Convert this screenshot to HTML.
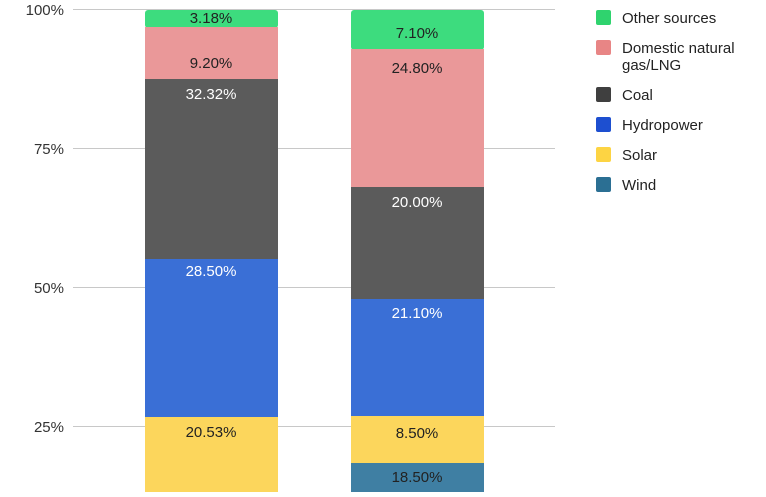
<!DOCTYPE html>
<html><head><style>
body{margin:0;background:#fff;}
svg text{font-family:"Liberation Sans",sans-serif;}
</style></head><body>
<svg width="766" height="492" xmlns="http://www.w3.org/2000/svg">
<g stroke="#c8c8c8" stroke-width="1">
<line x1="73" y1="9.5" x2="555" y2="9.5"/>
<line x1="73" y1="148.5" x2="555" y2="148.5"/>
<line x1="73" y1="287.5" x2="555" y2="287.5"/>
<line x1="73" y1="426.5" x2="555" y2="426.5"/>
</g>
<g font-size="15" fill="#333" text-anchor="end">
<text x="64" y="15">100%</text>
<text x="64" y="154">75%</text>
<text x="64" y="293">50%</text>
<text x="64" y="432">25%</text>
</g>
<!-- bar 1 -->
<rect x="145" y="10" width="133" height="18" rx="3" fill="#3ddc7e"/>
<rect x="145" y="27" width="133" height="52" fill="#ea9899"/>
<rect x="145" y="79" width="133" height="180" fill="#5b5b5b"/>
<rect x="145" y="259" width="133" height="158" fill="#3a6fd6"/>
<rect x="145" y="417" width="133" height="75" fill="#fcd65c"/>
<!-- bar 2 -->
<rect x="351" y="10" width="133" height="40" rx="3" fill="#3ddc7e"/>
<rect x="351" y="49" width="133" height="138" fill="#ea9899"/>
<rect x="351" y="187" width="133" height="112" fill="#5b5b5b"/>
<rect x="351" y="299" width="133" height="117" fill="#3a6fd6"/>
<rect x="351" y="416" width="133" height="47" fill="#fcd65c"/>
<rect x="351" y="463" width="133" height="29" fill="#3f7fa3"/>
<g font-size="15" text-anchor="middle">
<text x="211" y="23" fill="#222">3.18%</text>
<text x="211" y="68" fill="#222">9.20%</text>
<text x="211" y="99" fill="#fff">32.32%</text>
<text x="211" y="276" fill="#fff">28.50%</text>
<text x="211" y="437" fill="#222">20.53%</text>
<text x="417" y="38" fill="#222">7.10%</text>
<text x="417" y="73" fill="#222">24.80%</text>
<text x="417" y="207" fill="#fff">20.00%</text>
<text x="417" y="318" fill="#fff">21.10%</text>
<text x="417" y="438" fill="#222">8.50%</text>
<text x="417" y="482" fill="#222">18.50%</text>
</g>
<!-- legend -->
<rect x="596" y="10" width="15" height="15" rx="2" fill="#2fd36e"/>
<rect x="596" y="40" width="15" height="15" rx="2" fill="#e88585"/>
<rect x="596" y="87" width="15" height="15" rx="2" fill="#3f3f3f"/>
<rect x="596" y="117" width="15" height="15" rx="2" fill="#1d4fd0"/>
<rect x="596" y="147" width="15" height="15" rx="2" fill="#fdd443"/>
<rect x="596" y="177" width="15" height="15" rx="2" fill="#2b6f93"/>
<g font-size="15" fill="#222">
<text x="622" y="23">Other sources</text>
<text x="622" y="53">Domestic natural</text>
<text x="622" y="70">gas/LNG</text>
<text x="622" y="100">Coal</text>
<text x="622" y="130">Hydropower</text>
<text x="622" y="160">Solar</text>
<text x="622" y="190">Wind</text>
</g>
</svg>
</body></html>
